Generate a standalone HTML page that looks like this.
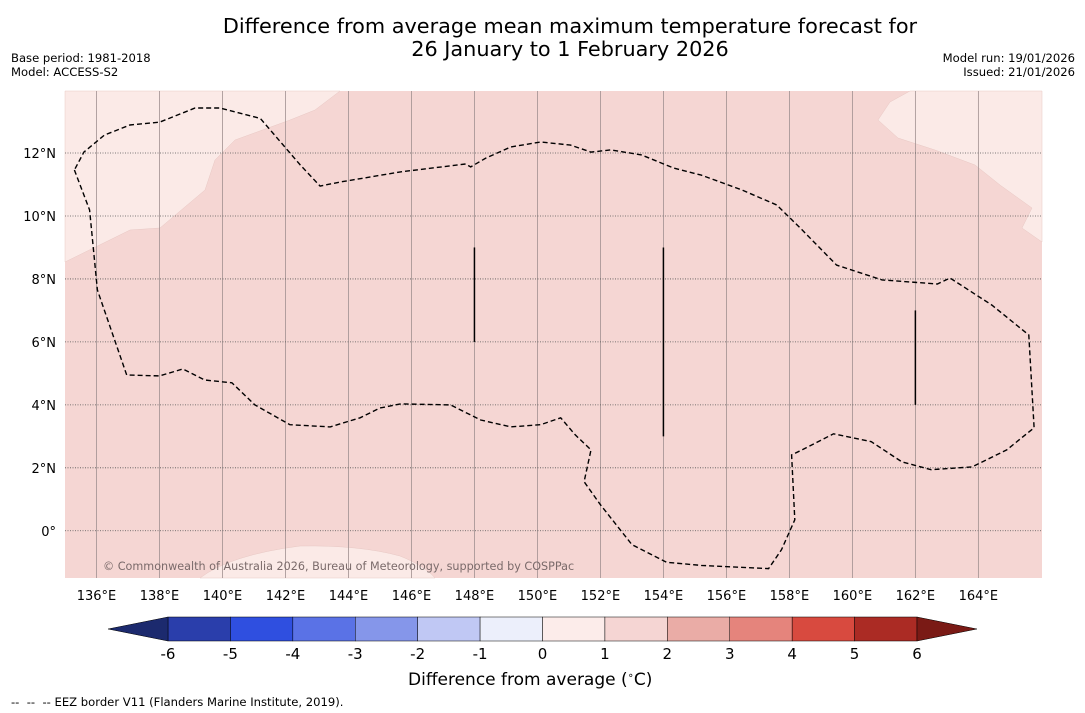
<!DOCTYPE html>
<html><head><meta charset="utf-8">
<style>
body{margin:0;background:#fff;font-family:"DejaVu Sans","Liberation Sans",sans-serif;}
#wrap{position:relative;width:1085px;height:713px;overflow:hidden;}
.t{position:absolute;white-space:nowrap;}
</style></head>
<body>
<div id="wrap">
<div class="t" style="left:0;width:1140px;top:15px;text-align:center;font-size:20.8px;line-height:23px;color:#000">Difference from average mean maximum temperature forecast for<br>26 January to 1 February 2026</div>
<div class="t" style="left:11px;top:51px;font-size:11.6px;line-height:14px">Base period: 1981-2018<br>Model: ACCESS-S2</div>
<div class="t" style="right:10px;top:51px;font-size:11.6px;line-height:14px;text-align:right">Model run: 19/01/2026<br>Issued: 21/01/2026</div>
<div class="t" style="left:408px;top:670px;font-size:17px">Difference from average (<sup style="font-size:10px">∘</sup>C)</div>
<div class="t" style="left:11px;top:695px;font-size:11.6px">--&nbsp; --&nbsp; -- EEZ border V11 (Flanders Marine Institute, 2019).</div>
<svg id="svg" width="1085" height="713" style="position:absolute;left:0;top:0"></svg>
</div>
<script>
const lonTicks=[136,138,140,142,144,146,148,150,152,154,156,158,160,162,164];
const latTicks=[0,2,4,6,8,10,12];
const levels=[-6,-5,-4,-3,-2,-1,0,1,2,3,4,5,6];
const levelColors=["#2a3eab","#2f4fe0","#5a72e6","#8596ea","#c0c8f4","#eceffb","#fcecea","#f5d5d3","#eaaca6","#e5847c","#d84a3f","#ab2b24"];
const eezLon=[135.3,135.78,136.03,136.96,138.0,138.74,139.44,140.3,141.03,142.14,143.42,144.37,145.0,145.65,147.24,148.2,149.15,150.1,150.74,151.2,151.7,151.48,152.0,153.0,154.1,155.2,157.34,157.75,158.17,158.07,158.4,159.4,160.6,161.57,162.5,163.8,164.9,165.77,165.6,164.43,163.1,162.7,160.94,159.5,158.4,157.6,156.48,155.2,154.33,153.3,152.33,151.7,151.05,150.1,149.15,148.36,147.88,147.72,145.65,143.74,143.1,142.47,141.2,139.92,139.13,138.0,137.06,136.25,135.6];
const eezLat=[11.46,10.19,7.65,4.95,4.92,5.14,4.79,4.7,4.0,3.37,3.3,3.59,3.9,4.03,4.0,3.52,3.3,3.37,3.59,3.05,2.57,1.56,0.83,-0.44,-1.0,-1.1,-1.2,-0.6,0.35,2.41,2.57,3.08,2.83,2.19,1.94,2.03,2.57,3.27,6.22,7.17,8.03,7.84,7.97,8.44,9.56,10.35,10.83,11.3,11.52,11.94,12.1,12.03,12.25,12.35,12.19,11.84,11.56,11.65,11.4,11.08,10.95,11.62,13.1,13.43,13.43,12.98,12.89,12.57,12.03];
const segLon=[148,154,162];
const segLat0=[6,3,4];
const segLat1=[9,9,7];

const NS="http://www.w3.org/2000/svg";
const svg=document.getElementById('svg');
const L=65,R=1042,T=91,B=578;
const lon0=135,lon1=166.02,lat0=-1.5,lat1=13.97;
const x=v=>L+(v-lon0)/(lon1-lon0)*(R-L);
const y=v=>B-(v-lat0)/(lat1-lat0)*(B-T);
function el(tag,attrs){const e=document.createElementNS(NS,tag);for(const k in attrs)e.setAttribute(k,attrs[k]);svg.appendChild(e);return e;}

let r=el('rect',{x:L,y:T,width:R-L,height:B-T,fill:'#f5d6d3'});


const light=[
"M65,91 L65,262 L130,230 L160,228 L205,190 L215,160 L235,140 L290,120 L315,110 L340,91 Z",
"M910,91 L890,102 L878,120 L898,138 L935,150 L975,165 L1000,185 L1032,208 L1022,228 L1042,242 L1042,91 Z",
"M200,578 Q230,555 300,546 Q360,545 400,556 Q425,566 435,578 Z"];
light.forEach(d=>{const p=el('path',{d:d,fill:'#fbeae7',stroke:'#e8c8c4','stroke-width':0.5});

});

lonTicks.forEach(v=>{const g=el('line',{x1:x(v),x2:x(v),y1:T,y2:B,stroke:'#a09090','stroke-width':0.8});


const t=el('text',{x:x(v),y:600,'font-size':13,'text-anchor':'middle','font-family':'DejaVu Sans, Liberation Sans, sans-serif'});t.textContent=v+'°E';

});
latTicks.forEach(v=>{const g=el('line',{x1:L,x2:R,y1:y(v),y2:y(v),stroke:'#555','stroke-width':0.8,'stroke-dasharray':'1,1.5'});


const t=el('text',{x:56,y:y(v)+5,'font-size':13,'text-anchor':'end','font-family':'DejaVu Sans, Liberation Sans, sans-serif'});t.textContent=v===0?'0°':v+'°N';

});

let d=eezLon.map((v,i)=>(i?'L':'M')+x(v).toFixed(1)+','+y(eezLat[i]).toFixed(1)).join(' ')+' Z';
const eez=el('path',{d:d,fill:'none',stroke:'#000','stroke-width':1.4,'stroke-dasharray':'5,3'});


segLon.forEach((v,i)=>{const s=el('line',{x1:x(v),x2:x(v),y1:y(segLat0[i]),y2:y(segLat1[i]),stroke:'#000','stroke-width':1.5});

});

const cr=el('text',{x:103,y:570,'font-size':11.2,fill:'#7a6a6a','font-family':'DejaVu Sans, Liberation Sans, sans-serif'});
cr.textContent='© Commonwealth of Australia 2026, Bureau of Meteorology, supported by COSPPac';



const cbL=168,cbR=917,cbT=617,cbB=641;
const cx=v=>cbL+(v-levels[0])/(levels[levels.length-1]-levels[0])*(cbR-cbL);
for(let i=0;i<levelColors.length;i++){const c=el('rect',{x:cx(levels[i]),y:cbT,width:cx(levels[i+1])-cx(levels[i]),height:cbB-cbT,fill:levelColors[i],stroke:'#000','stroke-width':0.5});

}
const e1=el('polygon',{points:`${cbL},${cbT} ${cbL},${cbB} 108,629`,fill:'#1c2a6e',stroke:'#000','stroke-width':0.5});


const e2=el('polygon',{points:`${cbR},${cbT} ${cbR},${cbB} 977,629`,fill:'#7a1a15',stroke:'#000','stroke-width':0.5});


levels.forEach(v=>{const t=el('text',{x:cx(v),y:659,'font-size':15,'text-anchor':'middle','font-family':'DejaVu Sans, Liberation Sans, sans-serif'});t.textContent=v;

});
</script>
</body></html>
